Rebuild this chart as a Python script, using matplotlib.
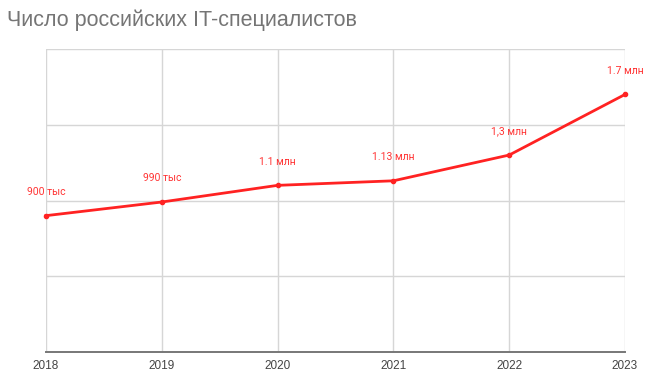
import matplotlib.pyplot as plt

# Data
years = [2018, 2019, 2020, 2021, 2022, 2023]
specialists_mln = [0.9, 0.99, 1.1, 1.13, 1.3, 1.7]
point_labels = ["900 тыс", "990 тыс", "1.1 млн", "1.13 млн", "1,3 млн", "1.7 млн"]

fig = plt.figure(figsize=(6.52, 3.9), dpi=100)
ax = fig.add_axes([46 / 652, 38 / 390, 579 / 652, 303 / 390])

ax.plot(years, specialists_mln, color="#ff2222", linewidth=2.0,
        marker="o", markersize=3, zorder=3, clip_on=False)

for x, y, lab in zip(years, specialists_mln, point_labels):
    ax.annotate(lab, (x, y), xytext=(0, 17), textcoords="offset points",
                ha="center", va="center", color="#ff3333", fontsize=7.5,
                family=["Roboto", "DejaVu Sans"])

ax.set_xlim(2018, 2023)
ax.set_ylim(0, 2.0)
ax.set_xticks(years)
ax.set_yticks([0, 0.5, 1.0, 1.5, 2.0])
ax.set_yticklabels([])
ax.grid(True, color="#d6d6d6", linewidth=1)
ax.set_axisbelow(True)

for side in ["top", "right", "left"]:
    ax.spines[side].set_visible(False)
ax.spines["bottom"].set_color("#777777")
ax.spines["bottom"].set_linewidth(1.4)
ax.spines["bottom"].set_zorder(4)

ax.tick_params(axis="both", length=0)
ax.tick_params(axis="x", pad=6, labelsize=8.5, labelcolor="#444444")
for t in ax.get_xticklabels():
    t.set_family(["Liberation Sans", "DejaVu Sans"])

fig.text(7 / 652, 1 - 20 / 390, "Число российских IT-специалистов",
         ha="left", va="center", fontsize=15.5, color="#757575",
         family=["Liberation Sans", "DejaVu Sans"])

fig.savefig("out.png", dpi=100)
